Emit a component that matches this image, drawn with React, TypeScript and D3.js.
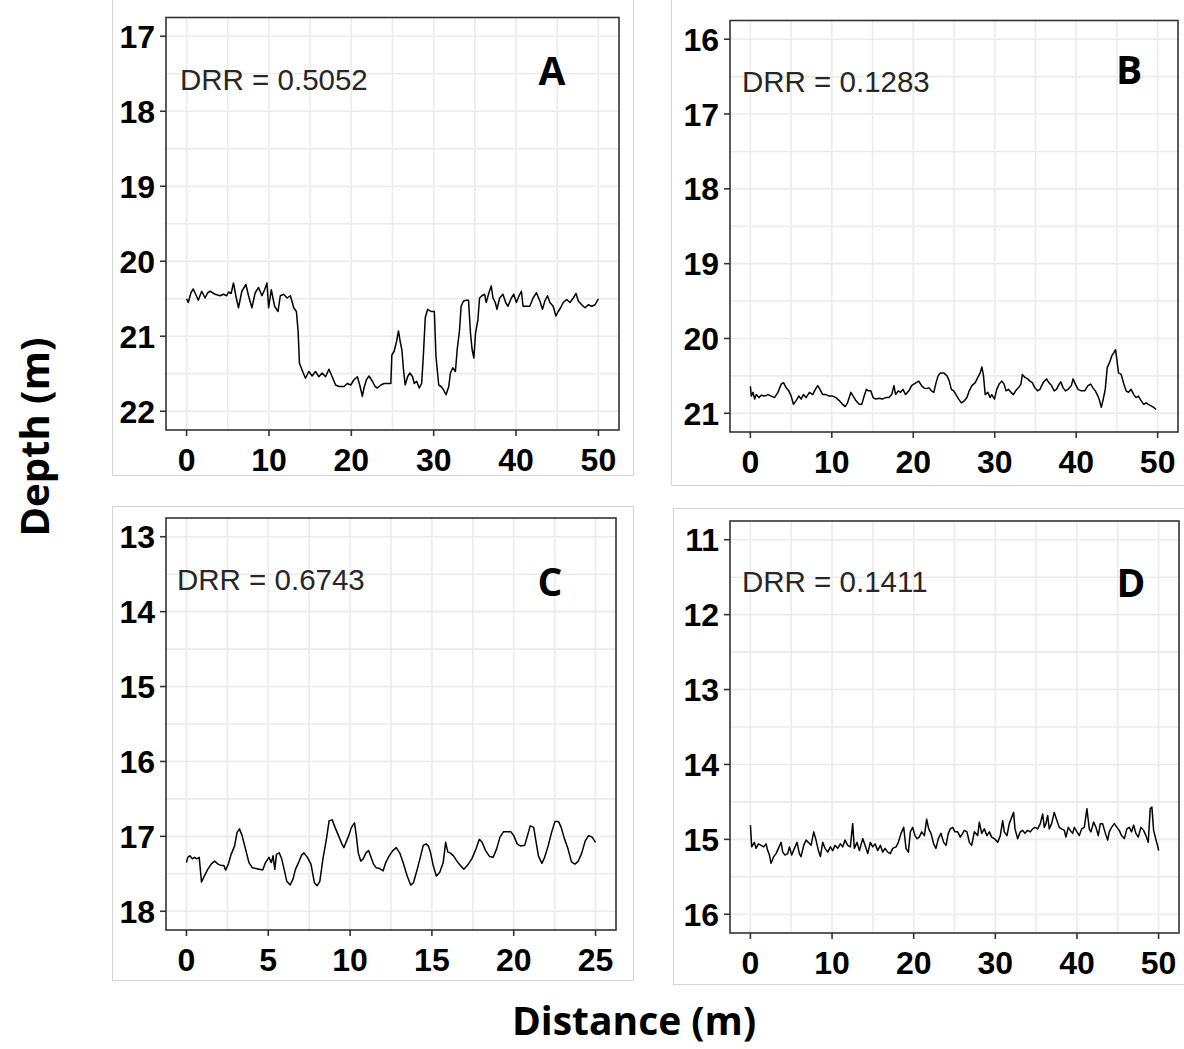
import React from 'react';
import * as d3 from 'd3';

// ---------- DATA ----------
const aDist = [0,0.2,0.53,0.81,1.1,1.42,1.83,2.24,2.56,2.85,3.46,4.07,4.47,4.88,5.08,5.41,5.69,5.98,6.3,6.71,7.2,7.52,7.93,8.33,8.74,9.15,9.47,9.76,9.96,10.28,10.69,11.1,11.38,11.79,12.2,12.6,13.01,13.33,13.54,13.7,14.02,14.43,14.84,15.24,15.65,16.06,16.46,16.87,17.28,17.68,18.09,18.5,19.11,19.51,19.92,20.33,20.73,21.02,21.34,21.54,21.83,22.15,22.56,22.89,23.17,23.58,23.98,24.39,24.8,24.92,25.2,25.49,25.73,25.93,26.14,26.34,26.54,26.83,27.11,27.44,27.64,27.93,28.25,28.54,28.74,28.98,29.27,29.67,30.08,30.28,30.61,30.89,31.18,31.5,31.83,32.03,32.32,32.64,32.85,33.13,33.33,33.62,33.94,34.23,34.47,34.67,34.88,35.08,35.37,35.57,35.85,36.18,36.38,36.71,36.99,37.2,37.48,37.68,38.01,38.41,38.74,39.02,39.43,39.72,40.04,40.37,40.65,40.85,41.26,41.67,42.07,42.48,42.89,43.21,43.5,43.82,44.11,44.51,44.84,45.12,45.41,45.73,46.14,46.54,46.95,47.28,47.56,47.97,48.37,48.78,49.19,49.59,50];
const aDepth = [20.5,20.55,20.42,20.37,20.44,20.52,20.4,20.49,20.42,20.4,20.44,20.46,20.44,20.46,20.41,20.43,20.29,20.46,20.62,20.4,20.31,20.46,20.62,20.42,20.35,20.46,20.38,20.29,20.62,20.38,20.6,20.67,20.46,20.44,20.49,20.46,20.62,20.67,20.93,21.36,21.45,21.56,21.47,21.53,21.47,21.54,21.49,21.54,21.44,21.54,21.65,21.67,21.67,21.63,21.65,21.58,21.54,21.65,21.8,21.69,21.58,21.53,21.6,21.67,21.69,21.65,21.63,21.63,21.63,21.25,21.2,21.07,20.93,21.07,21.18,21.45,21.65,21.54,21.49,21.54,21.63,21.6,21.69,21.63,21.27,20.75,20.64,20.67,20.67,21.27,21.65,21.67,21.71,21.78,21.67,21.49,21.42,21.47,21.18,20.93,20.6,20.53,20.52,20.52,20.96,21.18,21.29,20.96,20.78,20.49,20.46,20.44,20.55,20.42,20.33,20.49,20.55,20.64,20.49,20.44,20.55,20.6,20.49,20.44,20.55,20.46,20.4,20.6,20.6,20.6,20.49,20.42,20.53,20.64,20.53,20.46,20.55,20.6,20.73,20.67,20.62,20.55,20.51,20.55,20.49,20.43,20.53,20.58,20.62,20.58,20.6,20.58,20.5];

const bDist = [0,0.12,0.33,0.53,0.73,1.06,1.34,1.75,2.16,2.57,2.97,3.38,3.79,4.07,4.4,4.72,5.01,5.29,5.62,5.94,6.23,6.51,6.84,7.25,7.65,7.98,8.27,8.55,8.88,9.28,9.69,10.1,10.5,10.91,11.32,11.64,11.93,12.34,12.62,12.95,13.36,13.68,13.97,14.25,14.5,14.78,15.07,15.39,15.8,16.21,16.61,17.02,17.35,17.63,17.83,18.16,18.44,18.73,19.06,19.46,19.79,20.07,20.36,20.68,21.01,21.29,21.58,21.91,22.23,22.52,22.8,23.05,23.33,23.74,24.14,24.43,24.67,24.96,25.24,25.57,25.9,26.3,26.59,26.87,27.2,27.61,27.93,28.22,28.42,28.62,28.83,29.15,29.44,29.64,29.97,30.25,30.54,30.86,31.15,31.39,31.68,32,32.29,32.57,32.9,33.22,33.39,33.71,34.04,34.32,34.61,34.93,35.26,35.55,35.95,36.36,36.64,36.97,37.3,37.58,37.91,38.11,38.4,38.68,39.01,39.41,39.62,39.9,40.23,40.64,41.04,41.45,41.78,42.06,42.35,42.67,42.87,43.08,43.28,43.57,43.81,44.1,44.38,44.63,44.83,44.99,45.2,45.52,45.85,46.13,46.42,46.74,47.07,47.35,47.64,47.96,48.29,48.57,48.86,49.19,49.51,49.8];
const bDepth = [20.64,20.77,20.72,20.81,20.75,20.79,20.76,20.77,20.75,20.77,20.79,20.72,20.61,20.59,20.66,20.7,20.77,20.88,20.83,20.77,20.81,20.75,20.79,20.72,20.75,20.68,20.63,20.68,20.75,20.75,20.77,20.77,20.79,20.83,20.88,20.91,20.86,20.72,20.77,20.83,20.88,20.88,20.77,20.68,20.7,20.7,20.79,20.81,20.8,20.81,20.79,20.79,20.75,20.63,20.75,20.7,20.72,20.68,20.75,20.7,20.63,20.61,20.59,20.57,20.63,20.66,20.67,20.66,20.7,20.72,20.59,20.5,20.46,20.46,20.5,20.57,20.68,20.7,20.75,20.81,20.86,20.83,20.79,20.7,20.63,20.59,20.52,20.46,20.38,20.5,20.75,20.72,20.79,20.75,20.81,20.68,20.61,20.57,20.61,20.7,20.68,20.72,20.75,20.7,20.66,20.61,20.48,20.52,20.54,20.57,20.59,20.66,20.7,20.68,20.59,20.54,20.59,20.63,20.7,20.68,20.61,20.58,20.66,20.7,20.68,20.63,20.54,20.61,20.68,20.7,20.7,20.63,20.61,20.66,20.7,20.77,20.83,20.92,20.83,20.68,20.39,20.32,20.23,20.19,20.15,20.28,20.46,20.48,20.61,20.7,20.72,20.68,20.75,20.79,20.77,20.83,20.88,20.86,20.88,20.9,20.92,20.95];

const cDist = [0,0.08,0.21,0.36,0.5,0.63,0.78,0.92,1.09,1.3,1.51,1.72,1.93,2.14,2.29,2.39,2.56,2.73,2.94,3.09,3.24,3.4,3.61,3.82,4.03,4.24,4.45,4.66,4.83,5.04,5.19,5.29,5.4,5.5,5.67,5.82,5.97,6.13,6.34,6.51,6.66,6.87,7.04,7.18,7.39,7.61,7.82,7.98,8.15,8.34,8.55,8.72,8.91,9.08,9.29,9.5,9.62,9.75,9.92,10.08,10.27,10.38,10.5,10.65,10.8,10.97,11.13,11.28,11.43,11.6,11.81,12.02,12.18,12.39,12.61,12.82,13.03,13.24,13.49,13.7,13.87,14.08,14.29,14.47,14.64,14.79,14.92,15.08,15.27,15.48,15.69,15.84,15.97,16.11,16.32,16.53,16.74,16.95,17.16,17.44,17.69,17.9,18.07,18.28,18.53,18.74,18.95,19.16,19.37,19.58,19.83,20,20.21,20.42,20.67,20.84,21.01,21.22,21.37,21.51,21.72,21.89,22.1,22.31,22.52,22.73,22.9,23.11,23.32,23.53,23.74,23.95,24.16,24.37,24.58,24.79,25];
const cDepth = [17.35,17.28,17.26,17.3,17.28,17.3,17.28,17.61,17.53,17.44,17.37,17.33,17.37,17.39,17.39,17.45,17.37,17.24,17.13,16.95,16.9,16.99,17.17,17.35,17.42,17.43,17.44,17.45,17.35,17.28,17.35,17.26,17.44,17.24,17.22,17.3,17.44,17.6,17.65,17.57,17.44,17.34,17.25,17.22,17.28,17.37,17.62,17.66,17.6,17.3,17.04,16.79,16.78,16.88,16.99,17.1,17.15,17.08,16.99,16.88,16.82,16.99,17.22,17.33,17.3,17.22,17.19,17.28,17.37,17.42,17.43,17.46,17.35,17.26,17.19,17.15,17.22,17.35,17.53,17.65,17.62,17.46,17.28,17.12,17.1,17.13,17.22,17.39,17.53,17.48,17.35,17.08,17.21,17.22,17.26,17.33,17.39,17.44,17.39,17.3,17.17,17.04,17.08,17.19,17.27,17.28,17.17,17.01,16.94,16.94,16.94,16.99,17.1,17.13,17.12,16.99,16.86,16.88,17.08,17.26,17.36,17.28,17.13,16.95,16.8,16.8,16.88,17.04,17.17,17.34,17.37,17.33,17.22,17.06,16.99,17.01,17.08];

const dDist = [0,0.16,0.49,0.69,0.98,1.31,1.63,1.92,2.12,2.33,2.53,2.86,3.14,3.43,3.76,3.96,4.24,4.57,4.78,5.06,5.39,5.71,6,6.2,6.53,6.82,7.1,7.43,7.76,8.04,8.33,8.57,8.86,9.14,9.47,9.8,10.08,10.37,10.69,11.02,11.31,11.59,11.92,12.24,12.53,12.73,13.06,13.35,13.76,14.04,14.37,14.69,14.98,15.27,15.59,15.92,16.2,16.49,16.82,17.14,17.43,17.84,18.12,18.45,18.78,19.06,19.35,19.59,19.88,20.16,20.41,20.69,20.98,21.31,21.59,21.84,22.12,22.45,22.73,23.02,23.35,23.67,23.96,24.24,24.49,24.78,25.06,25.39,25.71,26,26.2,26.53,26.82,27.1,27.43,27.84,28.04,28.33,28.65,28.98,29.27,29.55,29.88,30.29,30.61,30.9,31.1,31.43,31.71,31.92,32.24,32.41,32.73,33.06,33.35,33.63,33.96,34.29,34.57,34.86,35.18,35.51,35.8,36,36.2,36.41,36.61,36.9,37.22,37.55,37.84,38.12,38.45,38.65,38.94,39.18,39.47,39.67,40,40.29,40.57,40.9,41.22,41.51,41.71,42.04,42.33,42.61,42.86,43.14,43.43,43.76,43.96,44.24,44.57,44.9,45.18,45.47,45.8,46.12,46.41,46.69,46.94,47.22,47.51,47.84,48.16,48.45,48.73,48.98,49.18,49.39,49.76,49.92,50];
const dDepth = [14.81,15.1,15.04,15.12,15.06,15.08,15.1,15.06,15.15,15.21,15.32,15.23,15.19,15.12,15.04,15.17,15.21,15.19,15.1,15.21,15.12,15.04,15.19,15.23,15.08,15.01,15.04,15.08,14.9,15.01,15.15,15.23,15.04,15.12,15.17,15.1,15.15,15.08,15.12,15.06,15.1,15.01,15.08,15.1,14.79,15.12,15.04,15.15,14.99,15.08,15.19,15.04,15.1,15.06,15.15,15.08,15.17,15.12,15.17,15.19,15.12,15.1,15.04,14.92,14.84,15.12,15.17,14.9,14.84,14.95,14.99,14.97,14.9,14.95,14.73,14.86,14.92,15.06,15.12,14.99,14.92,15.04,15.08,14.92,14.86,14.84,14.9,14.9,14.97,14.92,14.88,14.9,15.04,15.08,14.9,14.95,14.77,14.92,14.86,14.95,14.9,14.97,14.99,15.04,14.95,14.75,14.9,14.95,14.79,14.73,14.64,14.86,14.99,14.9,14.88,14.92,14.88,14.9,14.86,14.84,14.86,14.79,14.66,14.84,14.79,14.68,14.86,14.79,14.64,14.75,14.84,14.86,14.88,14.97,14.84,14.88,14.92,14.84,14.9,14.95,14.86,14.84,14.59,14.86,14.9,14.77,14.84,14.95,14.79,14.79,14.9,15.01,14.9,14.84,14.79,14.84,14.88,14.95,14.99,14.86,14.84,14.9,14.81,14.92,14.97,14.84,14.88,14.95,15.04,14.59,14.57,14.88,15.04,15.1,15.15];

const xTicks50 = [0, 10, 20, 30, 40, 50];
const xTicks25 = [0, 5, 10, 15, 20, 25];
const aYTicks = [17, 18, 19, 20, 21, 22];
const bYTicks = [16, 17, 18, 19, 20, 21];
const cYTicks = [13, 14, 15, 16, 17, 18];
const dYTicks = [11, 12, 13, 14, 15, 16];
const drrLabels = ['DRR = 0.5052', 'DRR = 0.1283', 'DRR = 0.6743', 'DRR = 0.1411'];
const panelLetters = ['A', 'B', 'C', 'D'];
const xTitle = 'Distance (m)';
const yTitle = 'Depth (m)';

// ---------- LAYOUT ----------
type Rect = { x: number; y: number; w: number; h: number };
const layouts: { box: Rect; plot: Rect; drr: [number, number]; letter: [number, number] }[] = [
  { box: { x: 112, y: -2, w: 521, h: 477 }, plot: { x: 166, y: 17.5, w: 453, h: 412.5 }, drr: [180, 90], letter: [552, 85] },
  { box: { x: 671, y: -2, w: 520, h: 487 }, plot: { x: 730, y: 20.5, w: 448, h: 411.5 }, drr: [742, 92], letter: [1129, 84] },
  { box: { x: 112, y: 506, w: 521, h: 474 }, plot: { x: 166, y: 518, w: 450, h: 412 }, drr: [177, 590], letter: [550, 596] },
  { box: { x: 673, y: 508, w: 520, h: 476 }, plot: { x: 730, y: 521, w: 449, h: 412 }, drr: [742, 592], letter: [1131, 597] },
];

const GRID = '#ebebeb';
const DARK = '#333333';

function Panel(props: {
  idx: number; dist: number[]; depth: number[]; xTicks: number[]; yTicks: number[];
}) {
  const { idx, dist, depth, xTicks, yTicks } = props;
  const L = layouts[idx];
  const p = L.plot;
  const x0 = xTicks[0], x1 = xTicks[xTicks.length - 1];
  const xPad = (x1 - x0) * 0.05;
  const y0 = yTicks[0], y1 = yTicks[yTicks.length - 1];
  const yPad = (y1 - y0) * 0.05;
  const x = d3.scaleLinear().domain([x0 - xPad, x1 + xPad]).range([p.x, p.x + p.w]);
  const y = d3.scaleLinear().domain([y0 - yPad, y1 + yPad]).range([p.y, p.y + p.h]);
  const xs = xTicks[1] - xTicks[0];
  const ys = yTicks[1] - yTicks[0];
  const xMinor = xTicks.slice(0, -1).map((t) => t + xs / 2);
  const yMinor = yTicks.slice(0, -1).map((t) => t + ys / 2);
  const line = d3.line<number>().x((_, i) => x(dist[i])).y((d) => y(d));
  const tickFont = { fontFamily: '"Liberation Sans", Arial, sans-serif', fontWeight: 700, fontSize: 32 };
  return (
    <g>
      <rect x={L.box.x + 0.5} y={L.box.y + 0.5} width={L.box.w} height={L.box.h} fill="#fff" stroke="#d4d4d4" strokeWidth={1} />
      {[...xMinor, ...xTicks].map((t, i) => (
        <line key={'gx' + i} x1={x(t)} x2={x(t)} y1={p.y} y2={p.y + p.h} stroke={GRID} strokeWidth={1.6} />
      ))}
      {[...yMinor, ...yTicks].map((t, i) => (
        <line key={'gy' + i} x1={p.x} x2={p.x + p.w} y1={y(t)} y2={y(t)} stroke={GRID} strokeWidth={1.6} />
      ))}
      <path d={line(depth) || ''} fill="none" stroke="#000" strokeWidth={1.5} strokeLinejoin="round" />
      <rect x={p.x} y={p.y} width={p.w} height={p.h} fill="none" stroke={DARK} strokeWidth={1.6} />
      {xTicks.map((t) => (
        <g key={'xt' + t}>
          <line x1={x(t)} x2={x(t)} y1={p.y + p.h} y2={p.y + p.h + 6} stroke={DARK} strokeWidth={1.6} />
          <text x={x(t)} y={p.y + p.h + 41} textAnchor="middle" fill="#000" style={tickFont}>{t}</text>
        </g>
      ))}
      {yTicks.map((t) => (
        <g key={'yt' + t}>
          <line x1={p.x - 6} x2={p.x} y1={y(t)} y2={y(t)} stroke={DARK} strokeWidth={1.6} />
          <text x={p.x - 11} y={y(t)} dy="0.36em" textAnchor="end" fill="#000" style={tickFont}>{t}</text>
        </g>
      ))}
      <text x={L.drr[0]} y={L.drr[1]} fill="#262626" style={{ fontFamily: '"Liberation Sans", Arial, sans-serif', fontSize: 29.5 }}>{drrLabels[idx]}</text>
      <text x={L.letter[0]} y={L.letter[1]} textAnchor="middle" fill="#000" style={{ fontFamily: '"Open Sans", "Liberation Sans", sans-serif', fontWeight: 700, fontSize: 39 }}>{panelLetters[idx]}</text>
    </g>
  );
}

export default function App() {
  return (
    <svg width={1184} height={1049} style={{ position: 'absolute', left: 0, top: 0, background: '#fff' }}>
      <rect x={0} y={0} width={1184} height={1049} fill="#fff" />
      <Panel idx={0} dist={aDist} depth={aDepth} xTicks={xTicks50} yTicks={aYTicks} />
      <Panel idx={1} dist={bDist} depth={bDepth} xTicks={xTicks50} yTicks={bYTicks} />
      <Panel idx={2} dist={cDist} depth={cDepth} xTicks={xTicks25} yTicks={cYTicks} />
      <Panel idx={3} dist={dDist} depth={dDepth} xTicks={xTicks50} yTicks={dYTicks} />
      <text x={634} y={1035} textAnchor="middle" fill="#000" style={{ fontFamily: '"Open Sans", sans-serif', fontWeight: 700, fontSize: 39 }}>{xTitle}</text>
      <text transform="translate(49,437) rotate(-90)" textAnchor="middle" fill="#000" style={{ fontFamily: '"Open Sans", sans-serif', fontWeight: 700, fontSize: 40 }}>{yTitle}</text>
    </svg>
  );
}
